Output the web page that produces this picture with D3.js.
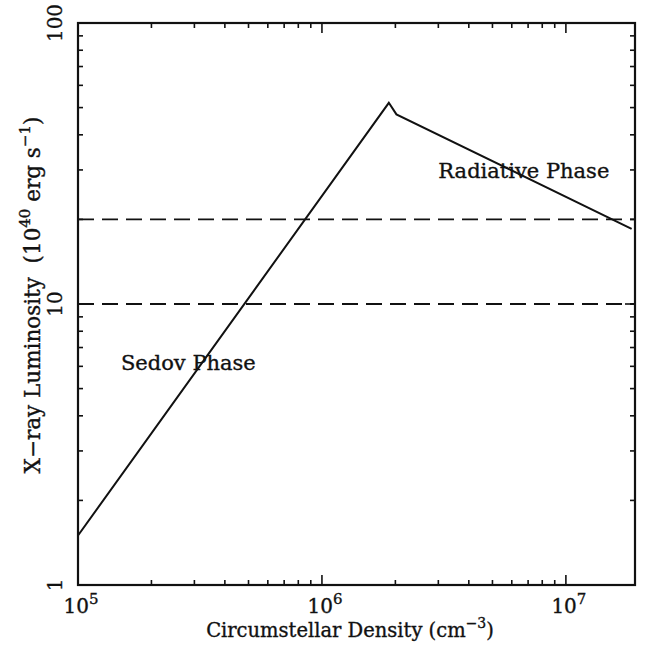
<!DOCTYPE html>
<html><head><meta charset="utf-8">
<script src="https://cdn.jsdelivr.net/npm/d3@7"></script>
<style>body{margin:0;background:#fff}svg{display:block}text{font-family:"DejaVu Serif",serif;fill:#111;stroke:#111;stroke-width:0.35}</style>
</head><body>
<script>
const density = [1e5, 1.88e6, 2.02e6, 1.86e7];
const luminosity = [1.5, 52, 47.3, 18.5];
const dashedLevels = [20, 10];
const xMajor = [1e5, 1e6, 1e7];
const xMajorExp = ["5", "6", "7"];
const yMajor = [1, 10, 100];
const yMajorLabels = ["1", "10", "100"];
const annotations = [{text: "Sedov Phase", x: 1.5e5, y: 5.8}, {text: "Radiative Phase", x: 3e6, y: 28}];

const W = 653, H = 645;
const m = {l: 78, r: 18, t: 23, b: 60};
const svg = d3.select("body").append("svg").attr("width", W).attr("height", H);
const x = d3.scaleLog().domain([1e5, 1.92e7]).range([m.l, W - m.r]);
const y = d3.scaleLog().domain([1, 100]).range([H - m.b, m.t]);

function minors(lo, hi) { const a = []; for (let e = lo; e < hi; e++) for (let k = 2; k <= 9; k++) a.push(k * Math.pow(10, e)); return a; }
const xMin = minors(5, 8).filter(v => v < x.domain()[1]);
const yMin = minors(0, 2);

const tg = svg.append("g").attr("stroke", "#111").attr("stroke-width", 1.6);
tg.append("rect").attr("x", x.range()[0]).attr("y", y.range()[1]).attr("width", x.range()[1] - x.range()[0]).attr("height", y.range()[0] - y.range()[1]).attr("fill", "none").attr("stroke-width", 2.2);
const X0 = x.range()[0], X1 = x.range()[1], Y0 = y.range()[0], Y1 = y.range()[1];
function xt(v, len) {
  tg.append("line").attr("x1", x(v)).attr("x2", x(v)).attr("y1", Y0).attr("y2", Y0 - len);
  tg.append("line").attr("x1", x(v)).attr("x2", x(v)).attr("y1", Y1).attr("y2", Y1 + len);
}
function yt(v, len) {
  tg.append("line").attr("y1", y(v)).attr("y2", y(v)).attr("x1", X0).attr("x2", X0 + len);
  tg.append("line").attr("y1", y(v)).attr("y2", y(v)).attr("x1", X1).attr("x2", X1 - len);
}
xMajor.forEach(v => xt(v, 10)); xMin.forEach(v => xt(v, 5));
yMajor.forEach(v => yt(v, 10)); yMin.forEach(v => yt(v, 5));

xMajor.forEach((v, i) => {
  const t = svg.append("text").attr("x", x(v) + 3).attr("y", Y0 + 28).attr("text-anchor", "middle").attr("font-size", 20);
  t.append("tspan").text("10");
  t.append("tspan").attr("dy", -9).attr("font-size", 15).text(xMajorExp[i]);
});
yMajor.forEach((v, i) => {
  svg.append("text").attr("transform", `translate(${X0 - 16},${y(v)}) rotate(-90)`).attr("text-anchor", "middle").attr("font-size", 20).text(yMajorLabels[i]);
});
const xl = svg.append("text").attr("x", 350).attr("y", Y0 + 52).attr("text-anchor", "middle").attr("font-size", 19.5);
xl.append("tspan").text("Circumstellar Density (cm");
xl.append("tspan").attr("dy", -9).attr("font-size", 14).text("−3");
xl.append("tspan").attr("dy", 9).text(")");
const yl = svg.append("text").attr("transform", `translate(40,295) rotate(-90)`).attr("text-anchor", "middle").attr("font-size", 21.5).style("white-space", "pre");
yl.append("tspan").text("X−ray Luminosity  (10");
yl.append("tspan").attr("dy", -10).attr("font-size", 15).text("40");
yl.append("tspan").attr("dy", 10).text(" erg s");
yl.append("tspan").attr("dy", -10).attr("font-size", 15).text("−1");
yl.append("tspan").attr("dy", 10).text(")");

dashedLevels.forEach(v => {
  svg.append("line").attr("x1", X0).attr("x2", X1).attr("y1", y(v)).attr("y2", y(v)).attr("stroke", "#111").attr("stroke-width", 1.8).attr("stroke-dasharray", "16,8");
});
const line = d3.line().x(d => x(d[0])).y(d => y(d[1]));
svg.append("path").datum(density.map((d, i) => [d, luminosity[i]])).attr("d", line).attr("fill", "none").attr("stroke", "#111").attr("stroke-width", 2);

annotations.forEach(a => {
  svg.append("text").attr("x", x(a.x)).attr("y", y(a.y)).attr("font-size", 21).text(a.text);
});
</script>
</body></html>
